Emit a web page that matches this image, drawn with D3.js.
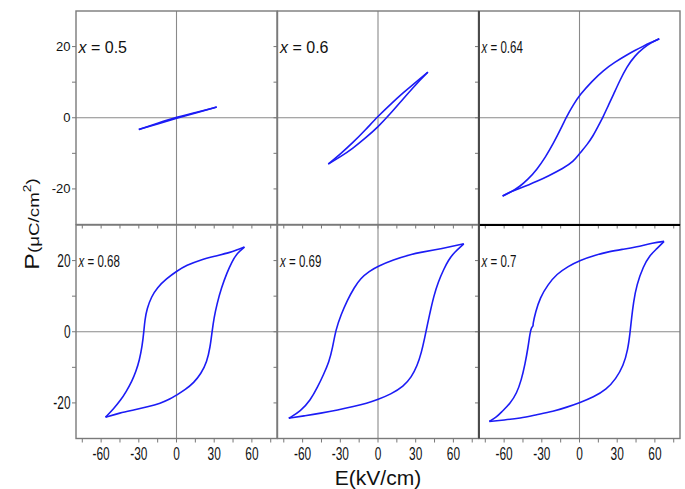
<!DOCTYPE html>
<html><head><meta charset="utf-8">
<script src="https://cdn.jsdelivr.net/npm/d3@7"></script>
<style>body{margin:0;background:#fff}svg{display:block}</style>
</head><body>
<script>
// ---- data ----
const eLabelTicks = [-60, -30, 0, 30, 60];
const eMinorTicks = [-75, -60, -45, -30, -15, 0, 15, 30, 45, 60, 75];
const pLabelTicks = [-20, 0, 20];
const pMinorTicks = [-20, -10, 0, 10, 20];
const compositions = ["0.5", "0.6", "0.64", "0.68", "0.69", "0.7"];

const up050 = [[32,3.0],[16,1.55],[0,0.15],[-15,-1.55],[-30,-3.3]];
const lo050 = [[-30,-3.3],[-15,-1.75],[0,-0.15],[16,1.4],[32,3.0]];

const up060 = [[39.7,12.8],[30,10.0],[20,7.0],[10,3.8],[0,0.4],[-10,-3.4],[-20,-7.0],[-30,-10.2],[-39.6,-13]];
const lo060 = [[-39.6,-13],[-30,-11.0],[-20,-8.6],[-10,-5.7],[0,-2.6],[10,1.2],[20,5.3],[30,9.3],[39.7,12.8]];

const up064 = [[63.5,22.2],[56,21.0],[50.8,20.1],[44,18.9],[37.5,17.6],[28,15.6],[19,13.3],[10,10.3],[0.4,6.5],[-5,3.6],[-10.2,0.4],[-15,-3.2],[-20.9,-7.3],[-27,-11.0],[-34,-14.6],[-41,-17.3],[-47.4,-19.3],[-55,-21.0],[-61.2,-22.0]];
const lo064 = [[-61.2,-22.0],[-55,-20.8],[-47.4,-19.8],[-40,-18.8],[-34,-17.9],[-25,-16.4],[-12.9,-14.2],[-5,-12.4],[0.4,-9.9],[6,-7.6],[11,-5.0],[15,-2.3],[19,0.4],[23,3.5],[27,6.5],[32,10.4],[37.6,14.3],[44,17.4],[50.8,19.6],[57,21.1],[63.5,22.2]];

const up068 = [[54.1,23.8],[48,23.0],[43,22.3],[30,21.2],[19.1,20.2],[8,18.7],[0,17.0],[-8,14.9],[-15.4,12.4],[-20,9.8],[-23.4,6.6],[-25.2,3.3],[-26,0],[-27.3,-4],[-29.5,-8.0],[-32.3,-11.2],[-35.5,-13.9],[-40,-16.8],[-44.6,-19.3],[-50,-21.6],[-56.5,-24.0]];
const lo068 = [[-56.5,-24.0],[-45,-22.8],[-34.2,-22.0],[-23,-21.1],[-12.7,-20.1],[-5,-18.9],[0,-17.8],[7,-16.3],[13.8,-14.3],[19.5,-11.8],[24.2,-8.5],[26.8,-4.3],[28.3,0],[29.8,3.8],[32.2,7.8],[35.8,12.4],[40.2,16.6],[44,19.6],[48.3,22.1],[54.1,23.8]];

const up069 = [[68.3,24.7],[57.7,23.9],[45,23.0],[35,22.4],[25.9,21.7],[12,20.2],[0,18.4],[-7,17.0],[-13.9,15.0],[-19,12.4],[-24.5,8.8],[-29.3,4.9],[-33.6,0.6],[-36.2,-4.6],[-39,-8.5],[-43.2,-11.9],[-48,-15.5],[-53.7,-19.2],[-61.7,-22.4],[-71,-24.3]];
const lo069 = [[-71,-24.3],[-58,-23.6],[-45.8,-22.9],[-32,-22.0],[-19.3,-21.0],[-9,-20.1],[0,-19.0],[10,-17.6],[20.5,-15.3],[26.5,-12.8],[31.2,-9.6],[34.6,-5.8],[37,-2.0],[39.2,1.8],[41.8,6.0],[44.4,10.0],[48,14.1],[52.4,17.6],[56,20.1],[60.4,22.2],[68.3,24.7]];

const up070 = [[67.3,25.4],[58.8,25.0],[45,23.8],[35,23.2],[24.3,22.6],[12,21.5],[0.4,20.1],[-9,18.4],[-18.2,16.2],[-25,13.3],[-31.4,9.6],[-35,5.5],[-37.2,2.0],[-36.7,1.7],[-38.3,1.2],[-39.4,-0.4],[-41,-4.5],[-43.3,-9.0],[-46.3,-13.6],[-50,-17.3],[-55,-20.1],[-61.9,-22.5],[-66,-24.0],[-71.8,-25.2]];
const lo070 = [[-71.8,-25.2],[-60,-24.8],[-47.4,-24.3],[-34,-23.3],[-20.9,-22.4],[-10,-21.2],[0.4,-19.9],[11,-18.4],[21.6,-16.2],[29,-13.2],[34.9,-9.6],[38.5,-5.0],[40.2,-0.4],[41.5,4.0],[43,8.3],[45.5,13.2],[50.8,18.4],[56,21.5],[61.5,23.3],[67.3,25.4]];

const loops = [[up050, lo050], [up060, lo060], [up064, lo064], [up068, lo068], [up069, lo069], [up070, lo070]];

// ---- layout ----
const W = 685, H = 489;
const colLeft = [76, 277.5, 479], panelW = 201;
const rowTop = [11, 225], panelH = 213.5;
const FONT = "'Liberation Sans', Arial, sans-serif";
const BLUE = "#1c1cf5";

const svg = d3.select("body").append("svg").attr("width", W).attr("height", H);

const panels = [];
for (let r = 0; r < 2; r++) for (let c = 0; c < 3; c++) panels.push({r, c});

panels.forEach((p, i) => {
  const x0 = colLeft[p.c], y0 = rowTop[p.r];
  const xs = d3.scaleLinear().domain([-80, 80]).range([x0, x0 + panelW]);
  const ys = d3.scaleLinear().domain([-30, 30]).range([y0 + panelH, y0]);
  const g = svg.append("g");

  g.append("line").attr("x1", xs(-80)).attr("x2", xs(80)).attr("y1", ys(0)).attr("y2", ys(0))
    .attr("stroke", "#8a8a8a").attr("stroke-width", 1.1);
  g.append("line").attr("x1", xs(0)).attr("x2", xs(0)).attr("y1", ys(30)).attr("y2", ys(-30))
    .attr("stroke", "#8a8a8a").attr("stroke-width", 1.1);

  g.selectAll(".xt").data(eMinorTicks).join("line")
    .attr("x1", d => xs(d)).attr("x2", d => xs(d))
    .attr("y1", ys(-30)).attr("y2", ys(-30) + 4)
    .attr("stroke", "#777").attr("stroke-width", 1);
  g.selectAll(".yt").data(pMinorTicks).join("line")
    .attr("x1", xs(-80) - 4).attr("x2", xs(-80))
    .attr("y1", d => ys(d)).attr("y2", d => ys(d))
    .attr("stroke", "#777").attr("stroke-width", 1);

  g.append("rect").attr("x", x0).attr("y", y0).attr("width", panelW).attr("height", panelH)
    .attr("fill", "none").attr("stroke", "#7a7a7a").attr("stroke-width", 1.4);

  const line = d3.line().x(d => xs(d[0])).y(d => ys(d[1])).curve(d3.curveBasis);
  loops[i].forEach(branch => {
    g.append("path").attr("d", line(branch)).attr("fill", "none")
      .attr("stroke", BLUE).attr("stroke-width", 1.6).attr("stroke-linejoin", "round");
  });

  const condensed = !(i === 0 || i === 1);
  const lx = x0 + 2.5, ly = (p.r === 0 ? 53 : 267);
  const t = g.append("text")
    .attr("transform", `translate(${lx},${ly}) scale(${condensed ? 0.72 : 1},1)`)
    .attr("font-family", FONT).attr("font-size", 16).attr("fill", "#111");
  t.append("tspan").attr("font-style", "italic").text("x");
  t.append("tspan").text(" = " + compositions[i]);

  if (p.c === 0) {
    g.selectAll(".yl").data(pLabelTicks).join("text")
      .attr("transform", d => p.r === 0
        ? `translate(${x0 - 5.5},${ys(d) + 4.5})`
        : `translate(${x0 - 5.5},${ys(d) + 6})  scale(0.68,1)`)
      .attr("text-anchor", "end")
      .attr("font-family", FONT).attr("font-size", p.r === 0 ? 13 : 17.5).attr("fill", "#111")
      .text(d => d);
  }
  if (p.r === 1) {
    g.selectAll(".xl").data(eLabelTicks).join("text")
      .attr("transform", d => `translate(${xs(d)},${ys(-30) + 21}) scale(0.68,1)`)
      .attr("text-anchor", "middle")
      .attr("font-family", FONT).attr("font-size", 17.5).attr("fill", "#111")
      .text(d => d);
  }
});

svg.append("line").attr("x1", colLeft[2]).attr("x2", colLeft[2] + panelW)
  .attr("y1", rowTop[1]).attr("y2", rowTop[1]).attr("stroke", "#000").attr("stroke-width", 2.2);
svg.append("line").attr("x1", colLeft[2]).attr("x2", colLeft[2])
  .attr("y1", rowTop[0]).attr("y2", rowTop[1] + panelH).attr("stroke", "#444").attr("stroke-width", 1.8);

svg.append("text").attr("x", colLeft[1] + panelW / 2).attr("y", 485)
  .attr("text-anchor", "middle").attr("font-family", FONT).attr("font-size", 21).attr("fill", "#111")
  .text("E(kV/cm)");

const yl = svg.append("text").attr("transform", "translate(39,224) rotate(-90) scale(1.25,1)")
  .attr("text-anchor", "middle").attr("font-family", FONT).attr("fill", "#111");
yl.append("tspan").attr("font-size", 20).text("P");
yl.append("tspan").attr("font-size", 15).text("(μC/cm");
yl.append("tspan").attr("font-size", 11).attr("dy", -8).text("2");
yl.append("tspan").attr("font-size", 15).attr("dy", 6).text(")");
</script>
</body></html>
